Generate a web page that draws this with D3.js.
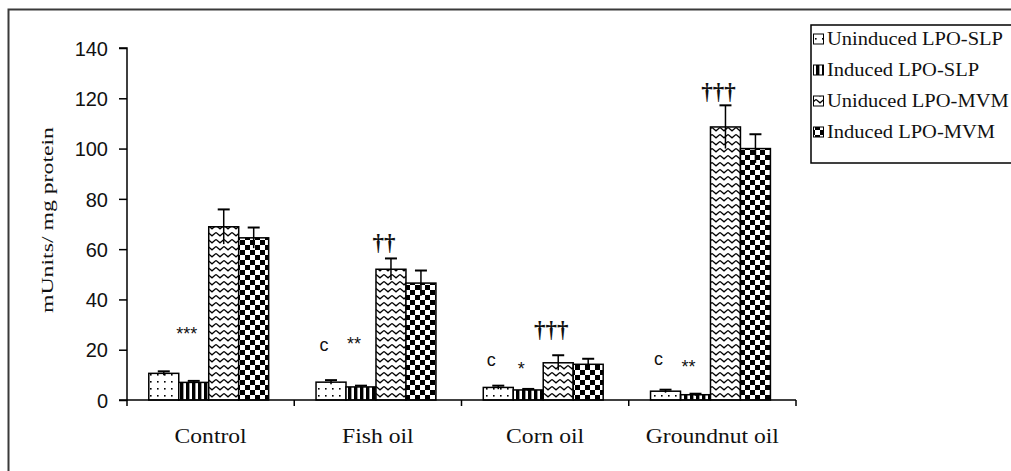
<!DOCTYPE html>
<html><head><meta charset="utf-8">
<script src="https://cdn.jsdelivr.net/npm/d3@7"></script>
<style>
html,body{margin:0;padding:0;background:#fff;}
svg{display:block;}
</style></head>
<body>
<svg id="chart" width="1011" height="471"></svg>
<script>
// ---- data ----
const categories = ["Control", "Fish oil", "Corn oil", "Groundnut oil"];
const seriesNames = ["Uninduced LPO-SLP", "Induced LPO-SLP", "Uniduced LPO-MVM", "Induced LPO-MVM"];
const uninducedSLP = [10.6, 7.1, 5.0, 3.5];
const inducedSLP   = [7.0, 5.2, 4.0, 2.1];
const uninducedMVM = [68.9, 52.0, 14.8, 108.6];
const inducedMVM   = [64.5, 46.5, 14.2, 100.0];
const errUninducedSLP = [0.8, 0.8, 0.7, 0.6];
const errInducedSLP   = [0.6, 0.5, 0.4, 0.4];
const errUninducedMVM = [6.9, 4.3, 3.0, 8.6];
const errInducedMVM   = [4.1, 5.0, 2.2, 5.7];
const yTicks = [0, 20, 40, 60, 80, 100, 120, 140];
const yTitle = "mUnits/ mg protein";
// significance labels: category, bar index it sits over, label level (data units)
const annCategory = ["Control", "Fish oil", "Fish oil", "Fish oil", "Corn oil", "Corn oil", "Corn oil", "Groundnut oil", "Groundnut oil", "Groundnut oil"];
const annSeries   = [1, 0, 1, 2, 0, 1, 2, 0, 1, 2];
const annText     = ["***", "c", "**", "††", "c", "*", "†††", "c", "**", "†††"];
const annLevel    = [23.8, 19.5, 19.9, 59.6, 13.5, 10.0, 25.0, 13.9, 10.7, 119.6];

const values = [uninducedSLP, inducedSLP, uninducedMVM, inducedMVM];
const errors = [errUninducedSLP, errInducedSLP, errUninducedMVM, errInducedMVM];
const patternIds = ["pDots", "pStripes", "pZig", "pCheck"];

const svg = d3.select("#chart");
svg.append("rect").attr("width", 1011).attr("height", 471).attr("fill", "#fff");

// ---- patterns ----
const defs = svg.append("defs");
{
  const p = defs.append("pattern").attr("id", "pDots").attr("patternUnits", "userSpaceOnUse")
    .attr("width", 7).attr("height", 7);
  p.append("rect").attr("width", 7).attr("height", 7).attr("fill", "#fff");
  p.append("rect").attr("x", 3).attr("y", 3).attr("width", 1.6).attr("height", 1.6).attr("fill", "#000");
}
{
  const p = defs.append("pattern").attr("id", "pStripes").attr("patternUnits", "userSpaceOnUse")
    .attr("width", 6).attr("height", 6);
  p.append("rect").attr("width", 6).attr("height", 6).attr("fill", "#fff");
  p.append("rect").attr("x", 0).attr("width", 3.4).attr("height", 6).attr("fill", "#000");
}
{
  const p = defs.append("pattern").attr("id", "pZig").attr("patternUnits", "userSpaceOnUse")
    .attr("width", 8).attr("height", 7);
  p.append("rect").attr("width", 8).attr("height", 7).attr("fill", "#fff");
  p.append("path").attr("d", "M0,1.5 L4,4.8 L8,1.5").attr("fill", "none").attr("stroke", "#000").attr("stroke-width", 1.3);
}
{
  const p = defs.append("pattern").attr("id", "pCheck").attr("patternUnits", "userSpaceOnUse")
    .attr("width", 10).attr("height", 10);
  p.append("rect").attr("width", 10).attr("height", 10).attr("fill", "#fff");
  p.append("rect").attr("x", 0).attr("y", 0).attr("width", 5).attr("height", 5).attr("fill", "#000");
  p.append("rect").attr("x", 5).attr("y", 5).attr("width", 5).attr("height", 5).attr("fill", "#000");
}

// outer frame
svg.append("rect").attr("x", 8.5).attr("y", 9.5).attr("width", 1100).attr("height", 600)
  .attr("fill", "none").attr("stroke", "#3a3a3a").attr("stroke-width", 2);

// ---- scales ----
const x0 = d3.scaleBand().domain(categories).range([127, 796]).padding(0);
const x1 = d3.scaleBand().domain(d3.range(seriesNames.length)).range([0, x0.bandwidth()])
  .paddingInner(0).paddingOuter(0.79).align(0.46);
const y = d3.scaleLinear().domain([0, 140]).range([400, 48]);

function stretch(sel, factor) {
  sel.each(function () {
    const w = this.getComputedTextLength();
    d3.select(this).attr("textLength", w * factor).attr("lengthAdjust", "spacingAndGlyphs");
  });
}

// ---- bars ----
const g = svg.append("g");
seriesNames.forEach((s, si) => {
  g.selectAll(null).data(categories).enter().append("rect")
    .attr("x", c => x0(c) + x1(si))
    .attr("y", (c, ci) => y(values[si][ci]))
    .attr("width", x1.bandwidth())
    .attr("height", (c, ci) => y(0) - y(values[si][ci]))
    .attr("fill", `url(#${patternIds[si]})`)
    .attr("stroke", "#000").attr("stroke-width", 1.5);
});
// error bars
seriesNames.forEach((s, si) => {
  categories.forEach((c, ci) => {
    const cx = x0(c) + x1(si) + x1.bandwidth() / 2;
    const v = values[si][ci], e = errors[si][ci];
    g.append("line").attr("x1", cx).attr("x2", cx).attr("y1", y(v - e)).attr("y2", y(v + e))
      .attr("stroke", "#000").attr("stroke-width", 1.5);
    g.append("line").attr("x1", cx - 6).attr("x2", cx + 6).attr("y1", y(v + e)).attr("y2", y(v + e))
      .attr("stroke", "#000").attr("stroke-width", 2);
  });
});

// ---- axes ----
const yAxis = d3.axisLeft(y).tickValues(yTicks).tickSize(8).tickPadding(11).tickFormat(d3.format("d"));
const yg = svg.append("g").attr("transform", "translate(127,0)").call(yAxis);
yg.select(".domain").attr("stroke", "#000").attr("stroke-width", 1.5).attr("d", `M-8,${y(140)}H0V${y(0)}H-8`);
yg.selectAll(".tick line").attr("stroke", "#000").attr("stroke-width", 1.5);
yg.selectAll(".tick text").attr("font-family", "Liberation Sans, Arial, sans-serif")
  .attr("font-size", 20).attr("fill", "#111").attr("dy", "0.36em");

const xg = svg.append("g").attr("transform", `translate(0,${y(0)})`);
const bounds = categories.map(c => x0(c)).concat([x0.range()[1]]);
xg.append("line").attr("x1", 127).attr("x2", x0.range()[1]).attr("y1", 0).attr("y2", 0)
  .attr("stroke", "#000").attr("stroke-width", 1.5);
xg.selectAll(".xt").data(bounds).enter().append("line")
  .attr("x1", d => d).attr("x2", d => d).attr("y1", 0).attr("y2", 6)
  .attr("stroke", "#000").attr("stroke-width", 1.5);
const xl = xg.selectAll(".xl").data(categories).enter().append("text")
  .attr("x", c => x0(c) + x0.bandwidth() / 2).attr("y", 43)
  .attr("text-anchor", "middle").attr("font-family", "Liberation Serif, Times New Roman, serif")
  .attr("font-size", 20).attr("fill", "#111").text(c => c);
stretch(xl, 1.18);

// y title
const yt = svg.append("text").attr("transform", "translate(53,220) rotate(-90)")
  .attr("text-anchor", "middle").attr("font-family", "Liberation Serif, Times New Roman, serif")
  .attr("font-size", 17).attr("fill", "#111").text(yTitle);
yt.attr("textLength", 186).attr("lengthAdjust", "spacingAndGlyphs");

// ---- annotations ----
annText.forEach((t, i) => {
  const c = annCategory[i], si = annSeries[i];
  const cx = x0(c) + x1(si) + x1.bandwidth() / 2 - 7;
  const isDagger = t.includes("†");
  svg.append("text").attr("x", cx).attr("y", y(annLevel[i]))
    .attr("text-anchor", "middle")
    .attr("font-family", isDagger ? "Liberation Serif, Times New Roman, serif" : "Liberation Sans, Arial, sans-serif")
    .attr("font-size", isDagger ? 23 : 18).attr("font-weight", isDagger ? "bold" : "normal")
    .attr("fill", "#111").text(t);
});

// ---- legend ----
const lg = svg.append("g");
lg.append("rect").attr("x", 811).attr("y", 25).attr("width", 300).attr("height", 138)
  .attr("fill", "#fff").attr("stroke", "#000").attr("stroke-width", 1.5);
const rowY = d3.scalePoint().domain(d3.range(seriesNames.length)).range([39, 132]);
let legendFactor = null;
seriesNames.forEach((s, si) => {
  const cy = rowY(si);
  lg.append("rect").attr("x", 813.5).attr("y", cy - 5).attr("width", 10).attr("height", 10)
    .attr("fill", `url(#${patternIds[si]})`).attr("stroke", "#000").attr("stroke-width", 1);
  const t = lg.append("text").attr("x", 827).attr("y", cy + 6)
    .attr("font-family", "Liberation Serif, Times New Roman, serif")
    .attr("font-size", 18).attr("fill", "#111").text(s);
  if (legendFactor === null) legendFactor = 176 / t.node().getComputedTextLength();
  stretch(t, legendFactor);
});
</script>
</body></html>
